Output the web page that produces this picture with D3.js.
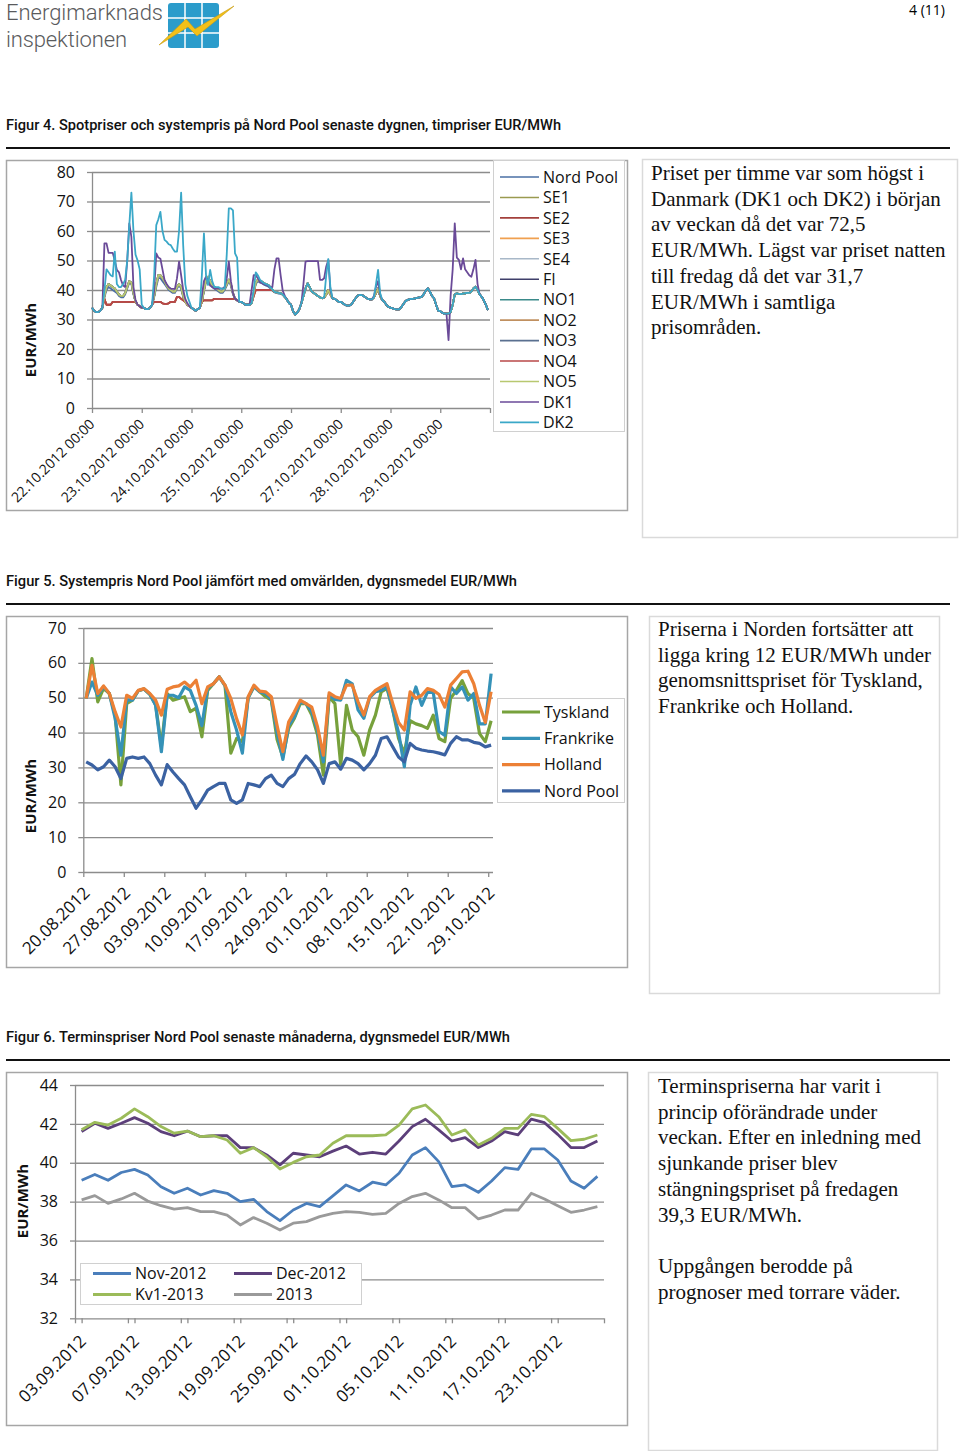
<!DOCTYPE html>
<html>
<head>
<meta charset="utf-8">
<script src="https://cdn.jsdelivr.net/npm/d3@7"></script>
<style>
body { margin: 0; background: #fff; }
text { font-family: "Open Sans", sans-serif; }
</style>
</head>
<body>
<script>
// ---- Figur 4: timpriser 22.10 - 29.10.2012 (192 timmar) ----
var fig4Dagar = ["22.10.2012 00:00","23.10.2012 00:00","24.10.2012 00:00","25.10.2012 00:00",
  "26.10.2012 00:00","27.10.2012 00:00","28.10.2012 00:00","29.10.2012 00:00"];
var fig4YTicks = [0,10,20,30,40,50,60,70,80];

var nordPoolTim = [
34,33,32.5,32.5,33,34,37.5,40,41,40.5,40,39.5,39,38,37.5,37.5,38.5,40.5,42.5,42,38.5,36,35,34.5,
34,34,33.5,33.5,34,35,37.5,41,44,44,43,42,41,40,39.5,39,39,40.5,41.5,40.5,37.5,36,35,34.5,
34,33.5,33,33.5,34,36,39.5,42.5,43.5,42.5,41,40.5,40,39.5,39,39,40,41.5,43,41.5,38.5,37,36.5,36,
36,35.5,35,35,35,35.5,38.5,42,43,42.5,42.3,41.8,41.5,41.2,40.6,39.8,39.2,39,38.8,38.7,38.3,37.6,36.8,35.6,
35,32.8,31.7,32.3,33.5,35.5,38,40.5,42.3,41,39.5,39,38.5,38,37.5,37.2,37.5,38.5,40,38.5,37.2,37,36.5,36,
36,35.5,35,34.7,34.7,35,36,37,38,38.3,38.3,38,37.5,37,36.8,36.8,37.5,39,40.5,38,36.6,36,35,34.3,
34,33.8,33.5,33.4,33.4,34,35,36,36.6,36.8,37,37,37.2,37.3,37.5,37.7,38.5,39.8,40.6,39.5,38,37.2,35,33,
32.8,32.3,32,32,32,32.5,35,38.5,38.9,38.6,38.6,38.8,38.9,39,39,39.5,40.5,41.1,40,38.5,37.7,36.5,35,33.2];

// SE3, SE4, FI, NO1, NO2, NO3, NO5
var sydTim = [
34,33,32.5,32.5,33,34,38,41,42,41.5,41,40.5,39.5,38.5,38,38,39,41,43,42.5,39,36,35,34.5,
34,34,33.5,33.5,34,35,38,42,45,45,44,43,41.5,40.5,40,39.5,39.5,41,42,41,38,36,35,34.5,
34,33.5,33,33.5,34,36,40,43.5,44.5,43,41.5,41,40.5,40,39.5,39.5,40.5,42,43.5,42,39,37,36.5,36,
36,35.5,35,35,35,35.5,39,42.5,43.5,43,42.8,42.3,42,41.7,41,40.2,39.4,39.2,39,38.9,38.5,37.7,36.8,35.6,
35,32.8,31.7,32.3,33.5,35.5,38,40.5,42.3,41,39.5,39,38.5,38,37.5,37.2,37.5,38.5,40,38.5,37.2,37,36.5,36,
36,35.5,35,34.7,34.7,35,36,37,38,38.3,38.3,38,37.5,37,36.8,36.8,37.5,39,40.5,38,36.6,36,35,34.3,
34,33.8,33.5,33.4,33.4,34,35,36,36.6,36.8,37,37,37.2,37.3,37.5,37.7,38.5,39.8,40.6,39.5,38,37.2,35,33,
32.8,32.3,32,32,32,32.5,35,38.5,38.9,38.6,38.6,38.8,38.9,39,39,39.5,40.5,41.1,40,38.5,37.7,36.5,35,33.2];

// SE1, SE2, NO4
var norrTim = [
34,33,32.5,32.5,33,34,37,35,35,35,36,36,36,36,36,36,36,36,36,36,36,36,35,34.5,
34,34,33.5,33.5,34,35,36,36,36,36,35.5,35.3,35.3,35.5,36,36,36,37.7,37.7,37,36.5,36,35,34.5,
34,33.5,33,33.5,34,36,36.5,36.5,36.5,36.5,36.5,37,37,37,37,37,37,37,37,37,37,37,36.5,36,
36,35.5,35,35,35,35.5,38,40,40,40,40,40,40,40,40,40,39.4,39.2,39,38.9,38.5,37.7,36.8,35.6,
35,32.8,31.7,32.3,33.5,35.5,38,40.5,42.3,41,39.5,39,38.5,38,37.5,37.2,37.5,38.5,40,38.5,37.2,37,36.5,36,
36,35.5,35,34.7,34.7,35,36,37,38,38.3,38.3,38,37.5,37,36.8,36.8,37.5,39,40.5,38,36.6,36,35,34.3,
34,33.8,33.5,33.4,33.4,34,35,36,36.6,36.8,37,37,37.2,37.3,37.5,37.7,38.5,39.8,40.6,39.5,38,37.2,35,33,
32.8,32.3,32,32,32,32.5,35,38.5,38.9,38.6,38.6,38.8,38.9,39,39,39.5,40.5,41.1,40,38.5,37.7,36.5,35,33.2];

var dk1Tim = [
34,33,32.5,32.5,33,34,55.8,55.8,52.6,52.6,52.6,50,46.8,46,43.4,41.5,41,50,62.6,58,41,36.6,35,34.5,
34,34,33.5,33.5,34,35,40,52.4,51,50.6,47,43.4,42,41,40.5,40.4,40.4,44,49.6,45,40,37,35.5,34.5,
34,33.5,33,33.5,34,38,43,44.5,43,41.5,41,40.5,40.5,40.5,40.5,40.5,41,44,49.6,43,39,37,36.5,36,
36,35.5,35,35,35,40,45,45,44,42.8,42.3,42,41.7,41.5,41,41,47,50.7,50.7,45,39.8,38,36.8,35.6,
35,32.8,31.7,32.3,33.5,35.5,42,49.6,49.8,49.8,49.8,49.8,49.8,49.8,43.4,43.4,44,48,50.2,40,37.2,37,36.5,36,
36,35.5,35,34.7,34.7,35,36,37,38,38.3,38.3,38,37.5,37,36.8,36.8,38,41,43,38.5,36.6,36,35,34.3,
34,33.8,33.5,33.4,33.4,34,35,36,36.6,36.8,37,37,37.2,37.3,37.5,37.7,38.5,39.8,40.6,39.5,38,37.2,35,33,
32.8,32.3,32,32,23,38,47,62.6,51,50.2,47,50.7,47,46,45,44.5,47,50.2,42,38.5,37.7,36.5,35,33.2];

var dk2Tim = [
34,33,32.5,32.5,33,34,40,47,46,45,44.6,53,42,41,41,42,43.4,50,62,73,60,52,50,47,
35,34,33.5,33.5,34,35,45,62,64,66.5,60,57,56.4,55.5,55.2,54,53,53,60,73,55,42,38,36,
34,33.5,33,33.5,34,45,59.2,45,41.7,46.8,43,41,41,41,40.5,40.5,40.5,52,67.7,67.7,67,52.4,51,36,
36,35.5,35,35,35,35.5,40,46,45,43.5,42.8,42.3,42,41.7,41,40.2,39.4,39.2,39,38.9,38.5,37.7,36.8,35.6,
35,32.8,31.7,32.3,33.5,35.5,38,40.5,42.3,41,39.5,39,38.5,38,37.5,37.2,37.5,45,50.5,41,37.2,37,36.5,36,
36,35.5,35,34.7,34.7,35,36,37,38,38.3,38.3,38,37.5,37,36.8,36.8,37.5,42,46.8,39,36.6,36,35,34.3,
34,33.8,33.5,33.4,33.4,34,35,36,36.6,36.8,37,37,37.2,37.3,37.5,37.7,38.5,39.8,40.6,39.5,38,37.2,35,33,
32.8,32.3,32,32,32,32.5,35,38.5,38.9,38.6,38.6,38.8,38.9,39,39,39.5,40.5,41.1,40,38.5,37.7,36.5,35,33.2];

var fig4Namn = ["Nord Pool","SE1","SE2","SE3","SE4","FI","NO1","NO2","NO3","NO4","NO5","DK1","DK2"];
var fig4Farger = ["#4a6fa5","#9a9a50","#a3403c","#f0a050","#a8b8c8","#3f3f6a","#3a8a8a",
  "#c09060","#5a7090","#b84848","#b8c870","#6a4a98","#3aa8c8"];
var fig4Serier = [nordPoolTim, norrTim, norrTim, sydTim, sydTim, sydTim, sydTim, sydTim, sydTim,
  norrTim, sydTim, dk1Tim, dk2Tim];

// ---- Figur 5: dygnsmedel 20.08 - 29.10.2012 ----
var fig5Datum = ["20.08.2012","27.08.2012","03.09.2012","10.09.2012","17.09.2012","24.09.2012",
  "01.10.2012","08.10.2012","15.10.2012","22.10.2012","29.10.2012"];
var fig5YTicks = [0,10,20,30,40,50,60,70];
var tyskland = [49.8,61.2,48.8,52.7,51.2,45,25,48.3,49.3,52,52.5,51,48,36,51.2,49.3,49.8,50.3,46,47,
  38.8,52.1,54,56,53.5,34.1,38.3,37.4,50,53.2,51.7,50.3,49.3,38,33,41.2,44.1,48.3,48.3,45,
  39.3,27.8,50.3,48.3,30.7,47.8,40.7,38.8,33.5,40.7,45,51.7,52.7,46.5,38.3,34,43.4,42.5,42,41.2,
  45,38.3,37.4,49.8,52.1,54.9,51.2,49.8,39.7,37.4,43.4];
var frankrike = [49.8,54.5,50.7,53.1,51.2,44.1,33.5,49.3,49.3,52,52.5,51,47.8,34.5,50.7,50.7,50,53.1,52.1,47.8,
  42,52.7,54,56,53.5,46,40.7,34.1,50,53.2,51.7,51.2,49.5,40,32.3,42,44.5,48.8,48.3,46,
  40.5,31.6,50.7,49.5,49.3,55,54,46.5,44.1,50,51.7,52.1,53.1,46.5,40,30.2,47.8,53.1,47.8,51.6,
  51.5,40.3,39.2,53.1,51.2,53.1,49.3,51.2,42.5,42.5,56.9];
var holland = [49.8,59.3,51.2,53.4,51.2,46,41.6,50.7,49.8,52.1,52.6,51.2,49.3,45,52.4,53.1,53.4,54.5,53.1,55,
  48.3,53.1,54,56,53.6,49.8,44,39.3,50.3,53.6,51.9,51.7,50.3,42,34.5,43,46,49.3,48.3,47.3,
  41.6,33.5,51.4,50.3,49.8,53.6,53.6,48.8,45,50.3,52.1,53.1,54,48.3,42.9,40.7,51.7,49.8,50.7,52.6,
  52.1,50.9,47.3,53.6,55.5,57.4,57.6,54,47.8,42.9,51.7];
var nordPoolDygn = [31.6,30.7,29.3,30.2,32.1,30.2,26.8,32.6,33,32.6,33,31.1,27.8,25,30.8,28.7,26.8,25,21.6,18.3,
  20.7,23.5,24.5,25.4,25.4,20.7,19.7,20.7,25.4,25,24.5,26.8,27.8,25.4,24.5,26.8,28,31.1,33.3,31.6,
  29.3,25.4,31.1,31.6,29.5,32.6,32.1,31.1,29.3,31.1,33.5,38.3,38.8,35.9,33,31.6,36.9,35.5,35,34.7,
  34.5,34.1,33.6,36.9,38.8,37.9,37.9,37.2,36.9,35.9,36.4];
var fig5Namn = ["Tyskland","Frankrike","Holland","Nord Pool"];
var fig5Farger = ["#77a13c","#3592b8","#ec8035","#3b62a2"];
var fig5Serier = [tyskland, frankrike, holland, nordPoolDygn];

// ---- Figur 6: terminspriser 03.09 - 26.10.2012 (40 handelsdagar) ----
var fig6Datum = ["03.09.2012","07.09.2012","13.09.2012","19.09.2012","25.09.2012",
  "01.10.2012","05.10.2012","11.10.2012","17.10.2012","23.10.2012"];
var fig6YTicks = [32,34,36,38,40,42,44];
var nov2012 = [39.1,39.4,39.1,39.5,39.66,39.37,38.77,38.43,38.69,38.34,38.57,38.43,38,38.12,37.49,37.02,37.57,37.91,37.74,38.3,
  38.86,38.55,39,38.86,39.46,40.4,40.78,40.06,38.77,38.86,38.48,39.06,39.75,39.66,40.71,40.71,40.14,39.06,38.69,39.3];
var dec2012 = [41.6,42.03,41.77,42.03,42.32,42.03,41.6,41.39,41.63,41.34,41.39,41.39,40.78,40.78,40.4,39.89,40.49,40.4,40.31,40.6,
  40.86,40.45,40.54,40.45,41.12,41.86,42.24,41.69,41.12,41.29,40.78,41.12,41.6,41.43,42.24,42.06,41.46,40.78,40.78,41.12];
var kv1_2013 = [41.7,42.08,41.94,42.29,42.77,42.37,41.86,41.52,41.63,41.34,41.39,41.17,40.49,40.78,40.31,39.68,40.02,40.31,40.4,41,
  41.39,41.39,41.39,41.43,41.94,42.77,42.97,42.37,41.43,41.69,40.92,41.26,41.77,41.77,42.49,42.37,41.77,41.14,41.21,41.43];
var ar2013 = [38.09,38.31,37.91,38.14,38.43,38.03,37.79,37.62,37.69,37.49,37.49,37.31,36.8,37.18,36.89,36.54,36.89,36.97,37.23,37.4,
  37.49,37.45,37.35,37.4,37.91,38.26,38.43,38.09,37.69,37.69,37.11,37.31,37.57,37.57,38.43,38.14,37.79,37.45,37.57,37.74];
var fig6Namn = ["Nov-2012","Dec-2012","Kv1-2013","2013"];
var fig6Farger = ["#4a7ebb","#5c3f7a","#9bbb59","#9a9a9a"];
var fig6Serier = [nov2012, dec2012, kv1_2013, ar2013];

var svg = d3.select("body").append("svg").attr("width", 960).attr("height", 1451);

// ---------- sidhuvud ----------
svg.append("text").attr("x", 6).attr("y", 20).attr("textLength", 157)
  .style("font-family", "Roboto").style("font-weight", 300).style("font-size", "22px")
  .style("fill", "#5a5b5d").text("Energimarknads");
svg.append("text").attr("x", 6).attr("y", 46.5).attr("textLength", 121)
  .style("font-family", "Roboto").style("font-weight", 300).style("font-size", "22px")
  .style("fill", "#5a5b5d").text("inspektionen");
svg.append("rect").attr("x", 168).attr("y", 3).attr("width", 51).attr("height", 45).attr("rx", 3)
  .attr("fill", "#2b9ccb");
[185, 202].forEach(function(x) {
  svg.append("line").attr("x1", x).attr("x2", x).attr("y1", 3).attr("y2", 48).attr("stroke", "#fff").attr("stroke-width", 1.5);
});
[18, 33].forEach(function(y) {
  svg.append("line").attr("x1", 168).attr("x2", 219).attr("y1", y).attr("y2", y).attr("stroke", "#fff").attr("stroke-width", 1.5);
});
svg.append("path").attr("d", "M159,45 L186,19 L195,29 L234,6 L197,36 L188,27 Z")
  .attr("fill", "#f2c018").attr("stroke", "#c89a10").attr("stroke-width", 0.6);
svg.append("text").attr("x", 945).attr("y", 15).attr("text-anchor", "end")
  .style("font-size", "14px").text("4 (11)");

// ---------- rubriker och linjer ----------
function rubrik(y, text, bredd) {
  svg.append("text").attr("x", 6).attr("y", y).attr("textLength", bredd).attr("lengthAdjust", "spacingAndGlyphs")
    .style("font-family", "'Liberation Sans Narrow', Roboto, sans-serif").style("font-size", "15px")
    .style("font-weight", 500).style("fill", "#111").text(text);
  svg.append("line").attr("x1", 6).attr("x2", 950).attr("y1", y + 18).attr("y2", y + 18)
    .attr("stroke", "#111").attr("stroke-width", 2);
}
rubrik(130, "Figur 4. Spotpriser och systempris på Nord Pool senaste dygnen, timpriser EUR/MWh", 555);
rubrik(586, "Figur 5. Systempris Nord Pool jämfört med omvärlden, dygnsmedel EUR/MWh", 511);
rubrik(1042, "Figur 6. Terminspriser Nord Pool senaste månaderna, dygnsmedel EUR/MWh", 504);

function ram(x, y, w, h, farg) {
  svg.append("rect").attr("x", x).attr("y", y).attr("width", w).attr("height", h)
    .attr("fill", "#fff").attr("stroke", farg).attr("stroke-width", 1.5);
}
ram(6.5, 160.5, 621, 350, "#a6a6a6");
ram(642.5, 159.5, 315, 378, "#dadada");
ram(6.5, 616.5, 621, 351, "#a6a6a6");
ram(649.5, 616.5, 290, 377, "#dadada");
ram(6.5, 1072.5, 621, 353, "#a6a6a6");
ram(648.5, 1072.5, 289, 378, "#dadada");

function textruta(x, y0, rader) {
  var t = svg.append("text").style("font-family", "'Liberation Serif', serif").style("font-size", "21px")
    .style("fill", "#111");
  rader.forEach(function(r, i) {
    t.append("tspan").attr("x", x).attr("y", y0 + i * 25.7).text(r);
  });
}
textruta(651, 180, ["Priset per timme var som högst i", "Danmark (DK1 och DK2) i början",
  "av veckan då det var 72,5", "EUR/MWh. Lägst var priset natten", "till fredag då det var 31,7",
  "EUR/MWh i samtliga", "prisområden."]);
textruta(658, 636, ["Priserna i Norden fortsätter att", "ligga kring 12 EUR/MWh under",
  "genomsnittspriset för Tyskland,", "Frankrike och Holland."]);
textruta(658, 1093, ["Terminspriserna har varit i", "princip oförändrade under",
  "veckan. Efter en inledning med", "sjunkande priser blev", "stängningspriset på fredagen",
  "39,3 EUR/MWh.", "", "Uppgången berodde på", "prognoser med torrare väder."]);

// ---------- gemensamma axelfunktioner ----------
function yAxel(y, ticks, x0, x1, fmt) {
  var grid = svg.append("g").attr("transform", "translate(" + x0 + ",0)")
    .call(d3.axisLeft(y).tickValues(ticks).tickSize(-(x1 - x0)).tickFormat(""));
  grid.select(".domain").remove();
  grid.selectAll("line").attr("stroke", "#8c8c8c").attr("stroke-width", 1.3);
  var ax = svg.append("g").attr("transform", "translate(" + x0 + ",0)")
    .call(d3.axisLeft(y).tickValues(ticks).tickSize(5).tickPadding(12).tickFormat(fmt).tickSizeOuter(0));
  ax.select(".domain").attr("stroke", "#8c8c8c").attr("stroke-width", 1.3);
  ax.selectAll("line").attr("stroke", "#8c8c8c").attr("stroke-width", 1.3);
  ax.selectAll("text").style("font-size", "16px").style("fill", "#111").style("font-family", "'Open Sans', sans-serif");
}

function xAxel(x, yPos, tickVals, fmt, dx, dy, storlek) {
  var ax = svg.append("g").attr("transform", "translate(0," + yPos + ")")
    .call(d3.axisBottom(x).tickValues(tickVals).tickSize(5).tickFormat(fmt).tickSizeOuter(0));
  ax.select(".domain").remove();
  ax.selectAll("line").attr("stroke", "#8c8c8c").attr("stroke-width", 1.3);
  ax.selectAll("text").attr("x", 0).attr("y", 0).attr("dy", 0)
    .attr("transform", "translate(" + dx + "," + dy + ") rotate(-45)")
    .style("text-anchor", "end").style("font-size", storlek).style("fill", "#111")
    .style("font-family", "'Open Sans', sans-serif");
}

function yTitel(x, y) {
  svg.append("text").attr("transform", "translate(" + x + "," + y + ") rotate(-90)")
    .attr("text-anchor", "middle").style("font-size", "15px").style("font-weight", "bold")
    .style("fill", "#111").text("EUR/MWh");
}

// ---------- Figur 4 ----------
var x4 = d3.scaleLinear().domain([0, 192]).range([92, 490]);
var y4 = d3.scaleLinear().domain([0, 80]).range([408, 172]);
yAxel(y4, fig4YTicks, 92, 490, d3.format("d"));
xAxel(x4, 408, d3.range(0, 193, 24), function(d, i) { return fig4Dagar[i] || ""; }, 3, 17, "14px");
yTitel(36, 340);

var linje4 = d3.line().x(function(d, i) { return x4(i); }).y(function(d) { return y4(d); });
fig4Serier.forEach(function(s, i) {
  svg.append("path").datum(s).attr("d", linje4).attr("fill", "none")
    .attr("stroke", fig4Farger[i]).attr("stroke-width", 1.8).attr("stroke-linejoin", "round");
});

var leg4 = svg.append("g");
leg4.append("rect").attr("x", 493.5).attr("y", 160.5).attr("width", 131).attr("height", 271)
  .attr("fill", "#fff").attr("stroke", "#d0d0d0");
fig4Namn.forEach(function(n, i) {
  var yy = 177 + i * 20.45;
  leg4.append("line").attr("x1", 500).attr("x2", 539).attr("y1", yy).attr("y2", yy)
    .attr("stroke", fig4Farger[i]).attr("stroke-width", 1.6);
  leg4.append("text").attr("x", 543).attr("y", yy).attr("dy", "0.36em")
    .style("font-size", "16px").style("fill", "#111").text(n);
});

// ---------- Figur 5 ----------
var x5 = d3.scaleLinear().domain([-0.5, 70.5]).range([83.3, 494]);
var y5 = d3.scaleLinear().domain([0, 70]).range([872, 628]);
yAxel(y5, fig5YTicks, 83.3, 493, d3.format("d"));
xAxel(x5, 872, d3.range(0, 11).map(function(k) { return -0.5 + 7 * k; }),
  function(d, i) { return fig5Datum[i]; }, 7, 22, "17px");
yTitel(36, 796);

var linje5 = d3.line().x(function(d, i) { return x5(i); }).y(function(d) { return y5(d); });
fig5Serier.forEach(function(s, i) {
  svg.append("path").datum(s).attr("d", linje5).attr("fill", "none")
    .attr("stroke", fig5Farger[i]).attr("stroke-width", 3.2).attr("stroke-linejoin", "round");
});

var leg5 = svg.append("g");
leg5.append("rect").attr("x", 497.5).attr("y", 698.5).attr("width", 127).attr("height", 104)
  .attr("fill", "#fff").attr("stroke", "#d0d0d0");
fig5Namn.forEach(function(n, i) {
  var yy = 712 + i * 26.3;
  leg5.append("line").attr("x1", 502).attr("x2", 540).attr("y1", yy).attr("y2", yy)
    .attr("stroke", fig5Farger[i]).attr("stroke-width", 3.2);
  leg5.append("text").attr("x", 544).attr("y", yy).attr("dy", "0.36em")
    .style("font-size", "16px").style("fill", "#111").text(n);
});

// ---------- Figur 6 ----------
var x6 = d3.scaleLinear().domain([0, 40]).range([75, 604]);
var y6 = d3.scaleLinear().domain([32, 44]).range([1318.3, 1085]);
yAxel(y6, fig6YTicks, 75, 604, d3.format("d"));
xAxel(x6, 1318.3, d3.range(0, 41, 4), function() { return ""; }, 0, 0, "17px");
xAxel(x6, 1318.3, d3.range(0, 37, 4).map(function(k) { return k + 0.5; }),
  function(d, i) { return fig6Datum[i]; }, 5, 24, "17px");
yTitel(28, 1201);

var linje6 = d3.line().x(function(d, i) { return x6(i + 0.5); }).y(function(d) { return y6(d); });
fig6Serier.forEach(function(s, i) {
  svg.append("path").datum(s).attr("d", linje6).attr("fill", "none")
    .attr("stroke", fig6Farger[i]).attr("stroke-width", 2.8).attr("stroke-linejoin", "round");
});

var leg6 = svg.append("g");
leg6.append("rect").attr("x", 80.5).attr("y", 1263.5).attr("width", 281).attr("height", 41)
  .attr("fill", "#fff").attr("stroke", "#d0d0d0");
fig6Namn.forEach(function(n, i) {
  var kol = i % 2, rad = Math.floor(i / 2);
  var lx = kol === 0 ? 93 : 234;
  var yy = 1273.5 + rad * 21;
  leg6.append("line").attr("x1", lx).attr("x2", lx + 38).attr("y1", yy).attr("y2", yy)
    .attr("stroke", fig6Farger[i]).attr("stroke-width", 2.8);
  leg6.append("text").attr("x", lx + 42).attr("y", yy).attr("dy", "0.36em")
    .style("font-size", "16px").style("fill", "#111").text(n);
});
</script>
</body>
</html>
